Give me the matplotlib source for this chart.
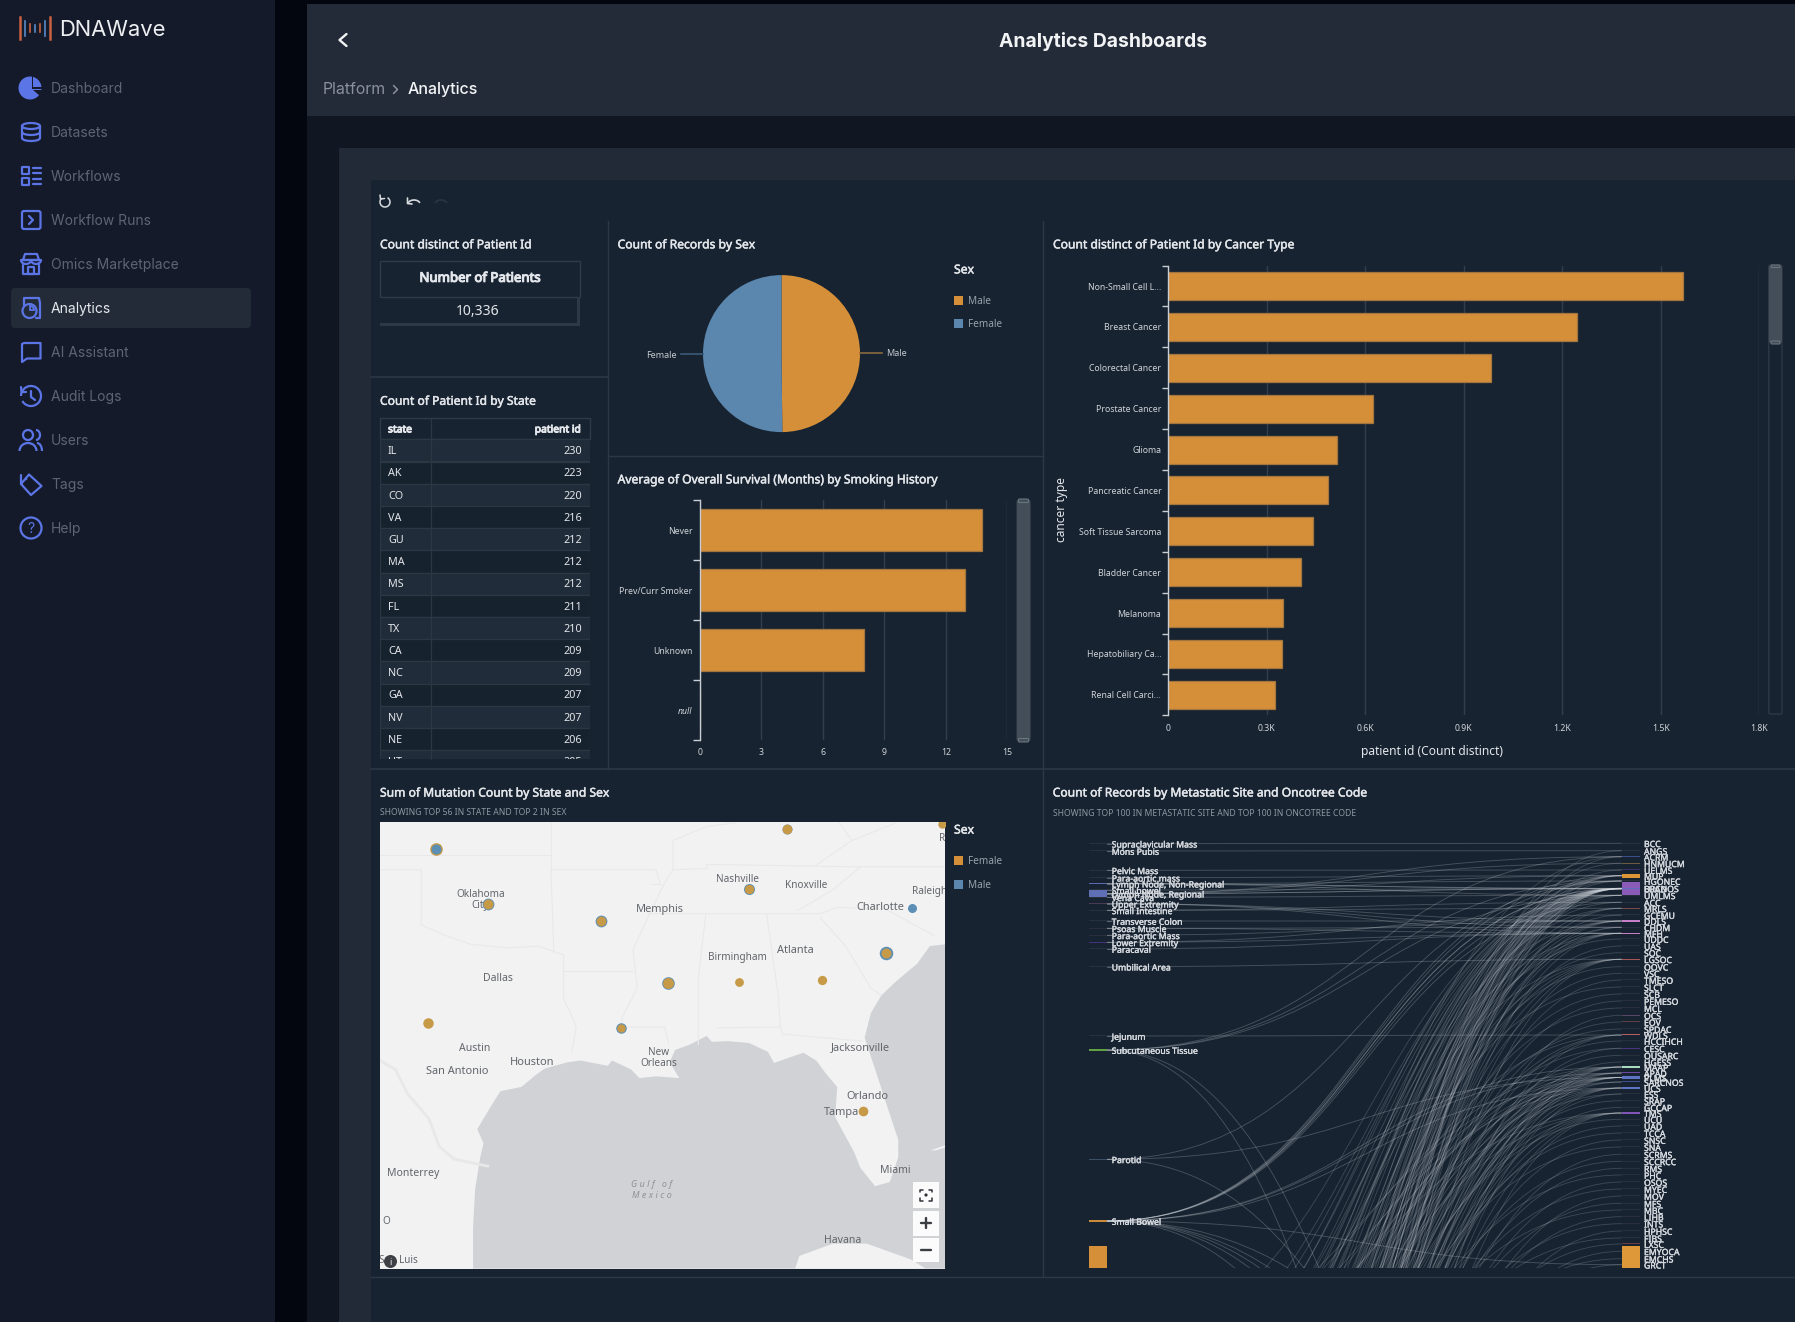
import matplotlib
matplotlib.use("Agg")
import matplotlib.pyplot as plt
import matplotlib.patheffects as pe
from matplotlib.patches import Rectangle, Circle, Wedge, Ellipse, FancyBboxPatch, Arc, PathPatch, Polygon
from matplotlib.path import Path

W, H = 1795, 1322
plt.rcParams['font.family'] = ['Noto Sans', 'DejaVu Sans']

# ---- data ----
nav_items = ["Dashboard", "Datasets", "Workflows", "Workflow Runs", "Omics Marketplace", "Analytics",
             "AI Assistant", "Audit Logs", "Users", "Tags", "Help"]

states = ["IL", "AK", "CO", "VA", "GU", "MA", "MS", "FL", "TX", "CA", "NC", "GA", "NV", "NE", "UT"]
state_counts = [230, 223, 220, 216, 212, 212, 212, 211, 210, 209, 209, 207, 207, 206, 205]

sex_labels = ["Male", "Female"]
sex_counts = [5150, 5186]

smoking = ["Never", "Prev/Curr Smoker", "Unknown", "null"]
survival = [13.78, 12.93, 7.99, 0]
survival_ticks = [0, 3, 6, 9, 12, 15]

cancer_types = ["Non-Small Cell L...", "Breast Cancer", "Colorectal Cancer", "Prostate Cancer", "Glioma",
                "Pancreatic Cancer", "Soft Tissue Sarcoma", "Bladder Cancer", "Melanoma",
                "Hepatobiliary Ca...", "Renal Cell Carci..."]
cancer_counts = [1567, 1246, 982, 624, 515, 488, 440, 405, 350, 346, 324]
cancer_ticks = [0, 300, 600, 900, 1200, 1500, 1800]
cancer_tick_labels = ["0", "0.3K", "0.6K", "0.9K", "1.2K", "1.5K", "1.8K"]

# map bubbles, lon/lat read from the basemap
bubble_lon = [-99.42, -97.22, -92.52, -86.32, -84.74, -78.26, -79.48, -80.57, -89.72, -86.75, -83.26, -91.68, -99.72, -81.54]
bubble_lat = [37.25, 35.32, 34.74, 35.85, 37.95, 38.15, 35.20, 33.61, 32.56, 32.59, 32.66, 30.97, 31.16, 28.08]
bubble_female = [159, 100, 94, 86, 94, 70, 0, 100, 121, 77, 86, 70, 110, 94]
bubble_male = [100, 139, 139, 121, 100, 0, 81, 182, 159, 0, 0, 110, 0, 0]

# sankey columns
left_labels = ["Supraclavicular Mass", "Mons Pubis", "Pelvic Mass", "Para-aortic mass", "Lymph Node, Non-Regional",
               "Small bowel", "Lymph Node, Regional", "Vena Cava", "Upper Extremity", "Small Intestine",
               "Transverse Colon", "Psoas Muscle", "Para-aortic Mass", "Lower Extremity", "Paracaval",
               "Umbilical Area", "Jejunum", "Subcutaneous Tissue", "Parotid", "Small Bowel"]
left_counts = [1, 1, 1, 1, 4, 1, 21, 1, 2, 1, 1, 1, 1, 2, 1, 1, 1, 4, 2, 4]
right_labels = ["BCC", "ANGS", "ACRM", "HNMUCM", "UELMS", "MUP", "HGONEC", "LUAD", "BRCNOS", "UMLMS", "ACC", "MRLS",
                "GCEMU", "DDLS", "CHDM", "MFH", "UDDC", "UAS", "SOC", "LGSOC", "OOVC", "VSC", "TMESO", "SLCT", "SCB",
                "PEMESO", "MCL", "OCS", "EOV", "SPDAC", "WDLS", "HCCIHCH", "CESC", "OUSARC", "HGESS", "MAAP", "APAD",
                "PLMS", "SARCNOS", "UCS", "ESS", "SRAP", "GCCAP", "TMS", "UCU", "UAD", "TCCA", "SNSC", "SNA", "SCRMS",
                "SCCRCC", "RMS", "PHC", "OSOS", "MYEC", "MOV", "MFS", "MBC", "LIHB", "INTS", "HPHSC", "FIBS", "LXSC",
                "EMYOCA", "EMCHS", "GRCT"]
right_counts = [1, 1, 2, 2, 1, 11, 1, 40, 2, 1, 1, 2, 1, 3, 1, 3, 1, 1, 1, 2, 1, 1, 1, 1, 1,
                1, 1, 1, 1, 1, 2, 1, 1, 1, 1, 4, 2, 10, 1, 3, 1, 1, 1, 3, 1, 1, 1, 1, 1, 1,
                1, 1, 1, 1, 1, 1, 1, 1, 1, 1, 1, 1, 2, 64, 1, 1]

link_from = ["Supraclavicular Mass", "Mons Pubis", "Pelvic Mass", "Para-aortic mass",
             "Lymph Node, Non-Regional", "Lymph Node, Non-Regional", "Lymph Node, Non-Regional", "Lymph Node, Non-Regional",
             "Lymph Node, Regional", "Lymph Node, Regional", "Lymph Node, Regional", "Lymph Node, Regional", "Lymph Node, Regional",
             "Small bowel", "Vena Cava", "Upper Extremity", "Upper Extremity", "Upper Extremity",
             "Small Intestine", "Small Intestine", "Transverse Colon", "Psoas Muscle", "Psoas Muscle", "Para-aortic Mass",
             "Lower Extremity", "Lower Extremity", "Paracaval", "Umbilical Area", "Jejunum",
             "Subcutaneous Tissue", "Subcutaneous Tissue", "Subcutaneous Tissue",
             "Parotid", "Parotid",
             "Small Bowel", "Small Bowel", "Small Bowel", "Small Bowel", "Small Bowel", "Small Bowel", "Small Bowel", "Small Bowel",
             "Small Bowel", "Small Bowel"]
link_to = ["BCC", "ANGS", "UELMS", "MUP",
           "LUAD", "BRCNOS", "HGONEC", "UMLMS",
           "LUAD", "LUAD", "MUP", "HNMUCM", "ACRM",
           "LUAD", "UMLMS", "DDLS", "MFH", "CHDM",
           "MRLS", "ACC", "DDLS", "MFH", "CHDM", "DDLS",
           "MFH", "GCEMU", "MFH", "LGSOC", "WDLS",
           "ACRM", "HGONEC", "UMLMS",
           "HGONEC", "PLMS",
           "LUAD", "BRCNOS", "UMLMS", "HGONEC", "ACC", "MAAP", "APAD", "UCS",
           "MUP", "GRCT"]

# links that run down to rows below the visible part of the diagram
offscreen_left = [[],
    [1890], [2040, 1510], [1720], [1830], [1420, 1555, 1610, 1745, 1880, 1965], [1490, 1780],
    [1345, 1380, 1415, 1440, 1465, 1500, 1530, 1560, 1590, 1625, 1650, 1690, 1715, 1750, 1790, 1820, 1860, 1905, 1945, 2010, 2080],
    [1395, 1525, 1640, 1770, 1930, 2120], [1455, 1670, 1850], [1600], [1505, 1730, 1955], [1840],
    [1430, 1575, 1660, 1805, 1990], [1700, 1920], [1470, 1620, 1760, 1870, 2050], [1540], [1880], [1680],
    [1450, 1585, 1710, 1835, 1975, 2130], [1600], [1790], [1930], [1520], [1740], [1850], [1640], [1970], [1760], [1580],
    [1480, 1695, 1815, 2000], [1650], [1545, 1880], [1725], [1825],
    [1375, 1495, 1615, 1735, 1860, 1985, 2110], [1410, 1565, 1720, 1905],
    [1360, 1445, 1520, 1605, 1680, 1775, 1845, 1950, 2070], [1435, 1630, 1810],
    [1390, 1535, 1665, 1795, 1940, 2090], [1575, 1895], [1690], [1860],
    [1405, 1515, 1640, 1755, 1880, 2020, 2160], [1610], [1780], [1700], [1890], [1640], [2010],
    [1760], [1870], [1660], [1950], [1730], [2060], [1820], [1625], [1900], [1745], [2100], [1675], [1840],
    [1985], [1770], [1920]]
# visible sites whose links leave through the bottom on the right-hand side
offscreen_from = ["Small Bowel", "Small Bowel", "Small Bowel", "Small Bowel", "Small Bowel",
                  "Subcutaneous Tissue", "Subcutaneous Tissue", "Parotid"]
offscreen_right = [1673, 1572, 1522, 1482, 1425, 1905, 1710, 1548]

# ---- colours ----
SIDEBAR = "#141a29"
GAP = "#03060f"
HEADER = "#232b38"
BODY = "#101722"
PANEL = "#212a36"
INNER = "#172331"
DIVIDER = "#2c3845"
BLUE = "#5b75e6"
ORANGE = "#d68f39"
STEEL = "#5b86ad"
TEXT = "#e3e6ea"
MUTED = "#99a3ae"

fig = plt.figure(figsize=(W / 100, H / 100), dpi=100, facecolor=BODY)


def px_axes(x0, y0, x1, y1, z=5):
    ax = fig.add_axes([x0 / W, 1 - y1 / H, (x1 - x0) / W, (y1 - y0) / H], zorder=z)
    ax.patch.set_alpha(0)
    return ax


def fs(px):
    return px * 0.72


def heavy(t, amount=0.35):
    # the dashboard font is heavier than what is installed here
    t.set_path_effects([pe.withStroke(linewidth=amount, foreground=t.get_color())])
    return t


bg = px_axes(0, 0, W, H, z=0)
bg.set_xlim(0, W)
bg.set_ylim(H, 0)
bg.axis("off")
ov = px_axes(0, 0, W, H, z=20)
ov.set_xlim(0, W)
ov.set_ylim(H, 0)
ov.axis("off")


def box(ax, x0, y0, x1, y1, color, **kw):
    ax.add_patch(Rectangle((x0, y0), x1 - x0, y1 - y0, facecolor=color, edgecolor="none", **kw))


def rbox(ax, x0, y0, x1, y1, r, fc="none", ec="none", lw=1.6, z=3):
    ax.add_patch(FancyBboxPatch((x0 + r, y0 + r), x1 - x0 - 2 * r, y1 - y0 - 2 * r,
                                boxstyle=f"round,pad={r}", fc=fc, ec=ec, lw=lw, zorder=z))


def poly(ax, xs, ys, color=BLUE, lw=1.6, z=3):
    ax.plot(xs, ys, color=color, lw=lw, zorder=z, solid_capstyle="round", solid_joinstyle="round")


# ---- page chrome ----
box(bg, 0, 0, 275, H, SIDEBAR)
box(bg, 275, 0, 307, H, GAP)
box(bg, 307, 0, W, 4, GAP)
box(bg, 307, 4, W, 116, HEADER)
box(bg, 339, 148, W, H, PANEL)
box(bg, 371, 180, W, H, INNER)

logo_x = [20, 25, 30, 34.5, 39.5, 44.5, 50]
logo_h = [11, 7.5, 4, 3.5, 4, 7.5, 11]
logo_c = ["#c9603f", "#5a8ac8", "#c9603f", "#5a8ac8", "#c9603f", "#5a8ac8", "#c9603f"]
for x, h, c in zip(logo_x, logo_h, logo_c):
    bg.plot([x, x], [28 - h, 28 + h], color=c, lw=1.8 if h > 10 else 1.2)
bg.text(59, 29, "DNAWave", family="Inter", fontsize=fs(22), color="#eceef1", va="center")

nav_y = [88, 132, 176, 220, 264, 308, 352, 396, 440, 484, 528]
rbox(bg, 11, 288, 251, 328, 4, fc=HEADER, z=1)
for name, y in zip(nav_items, nav_y):
    col = "#e5e7eb" if name == "Analytics" else "#5d6574"
    bg.text(51, y, name, family="Inter", fontsize=fs(13.9), color=col, va="center", zorder=4)

# sidebar icons, one by one
bg.add_patch(Wedge((30, 88), 11.5, 0, 360, fc=BLUE, ec="none", zorder=3))
bg.add_patch(Wedge((33, 90), 11, 0, 40, fc=SIDEBAR, ec="none", zorder=3))
box(bg, 31.5, 76, 33, 88, SIDEBAR, zorder=3)
box(bg, 31.5, 87, 43, 89, SIDEBAR, zorder=3)
bg.add_patch(Ellipse((31, 126), 18, 6, fc="none", ec=BLUE, lw=1.6, zorder=3))
poly(bg, [22, 22], [126, 138])
poly(bg, [40, 40], [126, 138])
bg.add_patch(Arc((31, 138), 18, 6, theta1=0, theta2=180, ec=BLUE, lw=1.6, zorder=3))
bg.add_patch(Arc((31, 132), 18, 6, theta1=0, theta2=180, ec=BLUE, lw=1.6, zorder=3))
for y0 in [167, 178]:
    rbox(bg, 22, y0, 29, y0 + 7, 0.5, ec=BLUE)
    poly(bg, [33, 41], [y0 + 1, y0 + 1])
    poly(bg, [33, 41], [y0 + 6, y0 + 6])
rbox(bg, 22, 211, 40.5, 229, 2, ec=BLUE)
poly(bg, [29, 33, 29], [216, 220, 224])
poly(bg, [23, 25, 37, 39, 23], [260, 254, 254, 260, 260])
poly(bg, [21, 41], [260, 260])
bg.add_patch(Arc((26, 260), 10, 8, theta1=0, theta2=180, ec=BLUE, lw=1.6, zorder=3))
bg.add_patch(Arc((36, 260), 10, 8, theta1=0, theta2=180, ec=BLUE, lw=1.6, zorder=3))
poly(bg, [23, 23, 39, 39], [265, 274, 274, 265])
rbox(bg, 28, 267, 34, 274, 0.5, ec=BLUE)
poly(bg, [24, 24, 31, 39, 40, 40, 36], [305, 298, 298, 298, 303, 318, 318])
bg.add_patch(Circle((29.5, 311), 7, fc=HEADER, ec=BLUE, lw=1.6, zorder=3))
bg.add_patch(Wedge((30, 310), 4, -90, 0, fc="none", ec=BLUE, lw=1.3, zorder=4))
poly(bg, [22, 22, 24, 40.5, 40.5, 27, 22], [361, 344, 343, 343, 358.5, 358.5, 362])
bg.add_patch(Arc((31, 396), 20, 20, theta1=-180, theta2=150, ec=BLUE, lw=1.6, zorder=3))
poly(bg, [21, 21.5, 26], [387, 392, 392])
poly(bg, [31, 31, 35], [391, 397, 400])
bg.add_patch(Circle((28, 435), 5, fc="none", ec=BLUE, lw=1.6, zorder=3))
bg.add_patch(Arc((28, 451), 17, 16, theta1=180, theta2=360, ec=BLUE, lw=1.6, zorder=3))
bg.add_patch(Arc((36, 435), 8, 10, theta1=-90, theta2=90, ec=BLUE, lw=1.6, zorder=3))
bg.add_patch(Arc((37, 451), 10, 16, theta1=270, theta2=360, ec=BLUE, lw=1.6, zorder=3))
poly(bg, [21, 21, 29, 41.5, 31, 21], [475, 484, 474.5, 486, 495, 484])
bg.add_patch(Circle((26, 479), 1.3, fc=BLUE, ec="none", zorder=3))
bg.add_patch(Circle((31, 528), 10.5, fc="none", ec=BLUE, lw=1.6, zorder=3))
bg.text(31, 528, "?", fontsize=fs(14), color=BLUE, ha="center", va="center", family="Inter", zorder=4)

poly(bg, [346.5, 339.5, 346.5], [34, 40, 46], color="#f1f2f4", lw=1.7)
bg.text(1103, 40, "Analytics Dashboards", family="Inter", fontsize=fs(19.3), weight="bold", color="#f2f3f5",
        ha="center", va="center")
bg.text(323, 88, "Platform", family="Inter", fontsize=fs(15.8), color="#8a919c", va="center")
poly(bg, [393.5, 397.5, 393.5], [85.5, 89.5, 93.5], color="#8a919c", lw=1.1)
bg.text(408, 88, "Analytics", family="Inter", fontsize=fs(16), color="#f2f3f5", weight="medium", va="center")

# toolbar
bg.add_patch(Arc((385, 202), 10, 10, theta1=-60, theta2=230, ec="#d7dbdf", lw=1.1))
poly(bg, [380, 380.5, 384.5], [195, 199, 198.5], color="#d7dbdf", lw=1.1)
bg.add_patch(Arc((414, 204), 12, 8, theta1=190, theta2=350, ec="#d7dbdf", lw=1.2))
poly(bg, [407.5, 407.5, 412], [198, 203.5, 204], color="#d7dbdf", lw=1.2)
bg.add_patch(Arc((441, 204), 12, 8, theta1=190, theta2=350, ec="#2b3642", lw=1.2))

# tile dividers
for x, y0, y1 in [(608, 221, 769), (1043, 221, 1277)]:
    bg.plot([x, x], [y0, y1], color=DIVIDER, lw=1)
bg.plot([371, 608], [376.5, 376.5], color=DIVIDER, lw=1.2)
bg.plot([608, 1043], [455.5, 455.5], color=DIVIDER, lw=1)
bg.plot([371, W], [769, 769], color=DIVIDER, lw=1.2)
bg.plot([371, W], [1277, 1277], color=DIVIDER, lw=1)


def title(x, y, s):
    heavy(ov.text(x, y, s, fontsize=fs(12.1), color=TEXT, va="center"))


def subtitle(x, y, s):
    ov.text(x, y, s, fontsize=fs(8.6), color="#8d97a2", va="center")


title(380, 243.6, "Count distinct of Patient Id")
title(380, 400, "Count of Patient Id by State")
title(617.6, 243.6, "Count of Records by Sex")
title(617.6, 478.6, "Average of Overall Survival (Months) by Smoking History")
title(1053, 243.6, "Count distinct of Patient Id by Cancer Type")
title(380, 791.8, "Sum of Mutation Count by State and Sex")
subtitle(380, 811.5, "SHOWING TOP 56 IN STATE AND TOP 2 IN SEX")
title(1052.7, 791.7, "Count of Records by Metastatic Site and Oncotree Code")
subtitle(1052.7, 811.7, "SHOWING TOP 100 IN METASTATIC SITE AND TOP 100 IN ONCOTREE CODE")

# KPI table
bg.add_patch(Rectangle((380, 261), 200, 36, fc="none", ec="#2f3b48", lw=1))
box(bg, 380, 322.5, 580, 326, "#2e3946")
box(bg, 576.5, 297, 580, 326, "#2e3946")
heavy(ov.text(480, 277, "Number of Patients", fontsize=fs(13.2), color=TEXT, ha="center", va="center"), 0.8)
ov.text(478, 310, "10,336", fontsize=fs(14), color=TEXT, ha="center", va="center")

# state table
table_clip = Rectangle((380, 418), 210, 341, transform=ov.transData, fc="none", ec="none")
row_top = 439.3
row_h = 22.2
ov.add_patch(Rectangle((380.3, 418), 209.7, 21.3, fc=INNER, ec="#2e3a47", lw=1))
heavy(ov.text(388, 428.6, "state", fontsize=fs(10.3), color=TEXT, va="center"), 0.7)
heavy(ov.text(581, 428.6, "patient id", fontsize=fs(10.3), color=TEXT, va="center", ha="right"), 0.7)
for i, (st, n) in enumerate(zip(states, state_counts)):
    y = row_top + i * row_h
    r = Rectangle((380.3, y), 209.7, row_h, fc="#202c39" if i % 2 == 0 else "#17222f", ec="#2b3743", lw=0.9)
    ov.add_patch(r)
    r.set_clip_path(table_clip)
    t1 = ov.text(388, y + row_h / 2, st, fontsize=fs(10.8), color=TEXT, va="center")
    t2 = ov.text(582, y + row_h / 2, str(n), fontsize=fs(10.8), color=TEXT, va="center", ha="right")
    for t in (t1, t2):
        t.set_clip_path(table_clip)
        t.set_clip_on(True)
ov.plot([431, 431], [418, 759], color="#2b3743", lw=0.9)

# pie
r_pie = 78.5 * 1.02
pie_ax = px_axes(781.5 - r_pie, 353.6 - r_pie, 781.5 + r_pie, 353.6 + r_pie)
pie_ax.pie(sex_counts, colors=[ORANGE, STEEL], startangle=90, counterclock=False, radius=1)
pie_ax.set_xlim(-1.02, 1.02)
pie_ax.set_ylim(-1.02, 1.02)
ov.plot([860, 882], [352.5, 352.5], color="#8a6a3e", lw=1.2)
ov.plot([681, 703], [354.3, 354.3], color="#3c5a78", lw=1.2)
ov.text(886, 352.5, "Male", fontsize=fs(9), color="#c3c9cf", va="center")
ov.text(676.6, 354.3, "Female", fontsize=fs(9), color="#c3c9cf", va="center", ha="right")


def legend(x, y_title, ys, names, cols):
    heavy(ov.text(x, y_title, "Sex", fontsize=fs(12.2), color=TEXT, va="center"))
    for y, name, c in zip(ys, names, cols):
        box(ov, x, y - 4.5, x + 9, y + 4.5, c)
        ov.text(x + 13.6, y, name, fontsize=fs(10), color=MUTED, va="center")


legend(954, 268.6, [300, 323], sex_labels, [ORANGE, STEEL])
legend(954, 828.8, [860.5, 884], ["Female", "Male"], [ORANGE, STEEL])


def style_bars(ax, cats, ticks, tick_labels, label_px, tick_len):
    n = len(cats)
    ax.set_ylim(n - 0.5, -0.5)
    ax.set_xlim(ticks[0], ticks[-1])
    ax.set_xticks(ticks)
    ax.set_xticklabels(tick_labels)
    ax.set_yticks(range(n))
    ax.set_yticklabels(cats)
    ax.set_yticks([i - 0.5 for i in range(n + 1)], minor=True)
    ax.tick_params(axis="y", which="major", length=0, pad=5, labelsize=fs(label_px), labelcolor="#d0d4d9")
    ax.tick_params(axis="y", which="minor", length=tick_len, width=1, color="#c9ced4")
    ax.tick_params(axis="x", length=0, pad=6, labelsize=fs(label_px), labelcolor="#d0d4d9")
    ax.grid(axis="x", color="#323e4b", lw=1)
    ax.set_axisbelow(True)
    for s in ["top", "right", "bottom"]:
        ax.spines[s].set_visible(False)
    ax.spines["left"].set_color("#c9ced4")
    ax.spines["left"].set_linewidth(1)


# survival bars
surv_ax = px_axes(699.6, 500.4, 1007.5, 740)
surv_ax.barh(range(len(smoking)), survival, height=0.7, color=ORANGE, edgecolor="#a3763f", lw=0.9)
style_bars(surv_ax, smoking, survival_ticks, [str(t) for t in survival_ticks], 8.7, 5)
surv_ax.get_yticklabels()[3].set_style("italic")
rbox(ov, 1016.6, 500, 1030.5, 741, 1.5, fc="#434e59")
rbox(ov, 1018.5, 499, 1028.5, 502.5, 1, fc="#434e59", ec="#6a7580", lw=0.8)
rbox(ov, 1018.5, 738.5, 1028.5, 742, 1, fc="#434e59", ec="#6a7580", lw=0.8)

# cancer type bars
cancer_ax = px_axes(1168.3, 265.6, 1759.2, 715.3)
cancer_ax.barh(range(len(cancer_types)), cancer_counts, height=0.687, color=ORANGE, edgecolor="#a3763f", lw=0.9)
style_bars(cancer_ax, cancer_types, cancer_ticks, cancer_tick_labels, 8.7, 4)
ov.text(1432.4, 750, "patient id (Count distinct)", fontsize=fs(12), color=TEXT, ha="center", va="center")
ov.text(1062, 508.4, "cancer type", fontsize=fs(12), color=TEXT, ha="center", va="center", rotation=90)
rbox(ov, 1768.8, 265, 1782, 714, 1.5, ec="#303b47", lw=0.9)
rbox(ov, 1768.8, 266, 1782, 342.8, 1.5, fc="#434e59")
rbox(ov, 1771, 265, 1780, 267.5, 1, fc="#434e59", ec="#6a7580", lw=0.8)
rbox(ov, 1771, 341, 1780, 344, 1, fc="#434e59", ec="#6a7580", lw=0.8)


# ---- map ----
def geo(points):
    # basemap was traced on a 2.376 x 2.84 enlargement, turn it into lon/lat
    return [(-96.8 + (x - 305) / 56.8, 32.78 - (y - 587) / 81) for x, y in points]


map_ax = px_axes(380, 821.8, 945, 1268.6)
map_ax.patch.set_alpha(1)
map_ax.set_facecolor("#f2f2f3")
map_ax.set_xlim(-96.8 + (24 - 305) / 56.8, -96.8 + (1366 - 305) / 56.8)
map_ax.set_ylim(32.78 - (1416 - 587) / 81, 32.78 - (147 - 587) / 81)
map_ax.set_xticks([])
map_ax.set_yticks([])
for s in map_ax.spines.values():
    s.set_visible(False)

water = [(245, 1416), (245, 1300), (250, 1190), (262, 1100), (270, 1060), (255, 1020), (285, 960), (310, 912), (360, 900),
         (395, 865), (415, 848), (470, 830), (500, 825), (530, 832), (565, 840), (575, 825), (620, 850), (640, 875),
         (680, 870), (735, 875), (712, 830), (725, 795), (760, 780), (800, 755), (812, 772), (850, 770), (900, 775),
         (945, 800), (960, 832), (1000, 815), (1030, 803), (1060, 825), (1085, 865), (1110, 900), (1105, 985),
         (1125, 1030), (1150, 1085), (1165, 1130), (1200, 1182), (1235, 1170), (1255, 1100),
         (1255, 1050), (1230, 960), (1200, 850), (1175, 760), (1190, 690), (1215, 640), (1250, 600), (1300, 550),
         (1330, 500), (1366, 495), (1366, 1416)]
cuba = [(1010, 1416), (1020, 1380), (1100, 1345), (1180, 1345), (1285, 1390), (1320, 1416)]
keys = [(1332, 1080), (1366, 1066), (1366, 1072), (1345, 1080)]
map_ax.add_patch(Polygon(geo(water), fc="#d0d2d5", ec="none", zorder=1))
map_ax.add_patch(Polygon(geo(cuba), fc="#f2f2f3", ec="none", zorder=1))
map_ax.add_patch(Polygon(geo(keys), fc="#f2f2f3", ec="none", zorder=1))

borders = [
    [(24, 240), (430, 240)],
    [(430, 147), (430, 283)],
    [(24, 283), (122, 283), (122, 440), (180, 470), (240, 495), (330, 505), (400, 500), (460, 525), (460, 650),
     (480, 700), (490, 730), (480, 800)],
    [(430, 283), (437, 520)],
    [(430, 283), (680, 283), (690, 325), (670, 325)],
    [(720, 283), (800, 280), (800, 268), (1165, 275), (1366, 275)],
    [(720, 283), (700, 320), (660, 420), (625, 510), (635, 620), (600, 700), (595, 730), (700, 730), (710, 780)],
    [(460, 570), (625, 570)],
    [(660, 408), (1070, 408), (1110, 390), (1225, 395), (1340, 470)],
    [(798, 408), (780, 590), (780, 780)],
    [(942, 408), (970, 640), (975, 730)],
    [(825, 732), (975, 730), (980, 750), (1170, 770)],
    [(1070, 420), (1130, 500), (1190, 620), (1215, 640)],
    [(1165, 275), (1100, 340), (1015, 400)],
    [(720, 283), (720, 200), (800, 160), (870, 150)],
    [(1115, 150), (1145, 200), (1060, 270)],
    [(1145, 200), (1250, 150)],
]
for line in borders:
    pts = geo(line)
    map_ax.plot([p[0] for p in pts], [p[1] for p in pts], color="#e9e9eb", lw=0.8, zorder=2)
rio = geo([(24, 825), (60, 850), (90, 920), (140, 990), (165, 1070), (200, 1105), (280, 1125)])
map_ax.plot([p[0] for p in rio], [p[1] for p in rio], color="#e8e8e9", lw=2, zorder=2)

city_names = ["Oklahoma\nCity", "Memphis", "Nashville", "Knoxville", "Raleigh", "Charlotte", "Birmingham", "Atlanta",
              "Dallas", "Austin", "Houston", "San Antonio", "New\nOrleans", "Jacksonville", "Orlando", "Tampa",
              "Monterrey", "Miami", "Havana", "San Luis", "R", "O"]
city_at = geo([(263, 370), (688, 397), (874, 311), (1037, 328), (1330, 344), (1212, 391), (873, 531), (1010, 512),
               (305, 591), (250, 792), (385, 832), (207, 857), (686, 817), (1165, 787), (1181, 927), (1120, 972),
               (104, 1146), (1249, 1138), (1124, 1336), (67, 1392), (1360, 194), (38, 1283)])
city_px = [10, 11, 10, 10, 10, 11, 10, 11, 10.5, 10.5, 11, 11, 10, 11, 11, 11, 10.5, 10.5, 10.5, 10, 10, 10]
for name, (lo, la), p in zip(city_names, city_at, city_px):
    map_ax.text(lo, la, name, fontsize=fs(p), color="#62656a", ha="center", va="center", zorder=4,
                clip_on=True, linespacing=1.0)
gulf = geo([(670, 1193)])[0]
map_ax.text(gulf[0], gulf[1], "G u l f   o f\nM e x i c o", fontsize=fs(9), style="italic", color="#8e9297",
            ha="center", va="center", zorder=4, linespacing=1.4)

# bubbles: the bigger sex goes behind the smaller one
for lo, la, f, m in zip(bubble_lon, bubble_lat, bubble_female, bubble_male):
    order = [("#c79a48", f), ("#5c8fb5", m)]
    order.sort(key=lambda o: -o[1])
    for k, (c, v) in enumerate(order):
        if v > 0:
            map_ax.scatter([lo], [la], s=v * 0.72 ** 2, color=c, linewidths=0, zorder=5 + k)

# map buttons
for y0, y1 in [(1182, 1208.4), (1210.8, 1235.5), (1238.3, 1262.3)]:
    box(ov, 913, y0, 939, y1, "#fbfbfb")
poly(ov, [921, 931], [1223, 1223], color="#3a3d42", lw=1.7)
poly(ov, [926, 926], [1218, 1228], color="#3a3d42", lw=1.7)
poly(ov, [921, 931], [1250.3, 1250.3], color="#3a3d42", lw=1.7)
ov.add_patch(Circle((926, 1195), 1.6, fc="#2e3136", ec="none"))
for dx in [-1, 1]:
    for dy in [-1, 1]:
        poly(ov, [926 + dx * 6, 926 + dx * 6, 926 + dx * 3], [1195 + dy * 3, 1195 + dy * 5.5, 1195 + dy * 5.5],
             color="#2e3136", lw=1.1)
ov.add_patch(Circle((390.5, 1261.5), 6.5, fc="#3d4045", ec="none"))
ov.text(390.5, 1261.5, "i", fontsize=fs(9), color="#f2f2f3", ha="center", va="center", weight="bold")

# ---- sankey ----
left_y = [843.7, 851, 870.3, 877.7, 883.7, 890, 893.7, 897.3, 903.7, 910.3, 921, 928.3, 935.3, 942.3, 949, 966.7,
          1036, 1050, 1159.3, 1221]
right_y = [843.3, 850.7, 856.7, 863.3, 870, 875.7, 881, 888.7, 888.3, 895.3, 902.3, 908.3, 915, 921, 927.3, 933.3,
           939, 946, 952.7, 959.3, 966.7, 973.3, 980, 987, 994, 1001, 1008, 1015.3, 1022, 1029, 1035, 1041, 1048.3,
           1055.3, 1062, 1067, 1073, 1077.5, 1082, 1088, 1094, 1100.7, 1107.3, 1113, 1119.3, 1126, 1133, 1140, 1147,
           1154.3, 1161.3, 1168.3, 1175, 1182, 1189, 1196, 1203.3, 1210, 1216.7, 1223.7, 1231, 1238, 1244, 1251.3,
           1258.7, 1264.7]
left_colors = {"Lymph Node, Non-Regional": "#5a68b0", "Lymph Node, Regional": "#5f6fb5", "Subcutaneous Tissue": "#62a044",
               "Small Bowel": "#c98a3a", "Upper Extremity": "#4a3a55", "Lower Extremity": "#45307a", "Parotid": "#3a5068"}
right_colors = {"ACRM": "#3d4f8a", "HNMUCM": "#6b5a3e", "UELMS": "#3e2f66", "MUP": "#dc9636", "LUAD": "#8a5cb8",
                "BRCNOS": "#5f6fc0", "MRLS": "#7a4a4a", "DDLS": "#c77fc7", "MFH": "#c77fc7", "LGSOC": "#a85555",
                "WDLS": "#b86060", "CESC": "#4a3580", "MAAP": "#a8dcc0", "APAD": "#6a48a0", "PLMS": "#5f73c4",
                "UCS": "#5f73c4", "TMS": "#8055b5", "LXSC": "#6b3f3f", "EMYOCA": "#de9739", "OCS": "#5a4468",
                "EOV": "#5a3f44", "SARCNOS": "#3d4f8a"}
DIM_NODE = "#27303c"

sk = px_axes(1080, 838, 1700, 1268.3, z=6)
sk.set_xlim(1080, 1700)
sk.set_ylim(1268.3, 838)
sk.axis("off")

LX0, LX1, RX0, RX1 = 1089, 1107, 1621.7, 1640
MID = (LX1 + RX0) / 2
LSCALE = 0.35


def link(y0, y1, alpha=0.2):
    p = Path([(LX1, y0), (MID, y0), (MID, y1), (RX0, y1)], [Path.MOVETO, Path.CURVE4, Path.CURVE4, Path.CURVE4])
    sk.add_patch(PathPatch(p, fc="none", ec="#d5dae0", lw=0.65, alpha=alpha, zorder=2))


pos_left = dict(zip(left_labels, left_y))
pos_right = dict(zip(right_labels, right_y))
for a, b in zip(link_from, link_to):
    link(pos_left[a], pos_right[b], alpha=0.25)
for label, sources in zip(right_labels, offscreen_left):
    for y0 in sources:
        link(y0, pos_right[label])
for a, y1 in zip(offscreen_from, offscreen_right):
    link(pos_left[a], y1, alpha=0.25)

for label, y, n in zip(left_labels, left_y, left_counts):
    h = max(n * LSCALE, 1)
    box(sk, LX0, y - h / 2, LX1, y + h / 2, left_colors.get(label, DIM_NODE), zorder=3)
    sk.plot([LX1, 1111], [y, y], color="#d5dae0", lw=0.7, alpha=0.3, zorder=2)
    heavy(sk.text(1111.7, y, label, fontsize=fs(8.7), color="#d8dce1", va="center", zorder=5), 0.25)
box(sk, LX0, 1246, LX1, 1268.3, ORANGE, zorder=3)

for label, y, n in zip(right_labels, right_y, right_counts):
    h = max(n * LSCALE, 1)
    if label == "EMYOCA":
        continue
    box(sk, RX0, y - h / 2, RX1, y + h / 2, right_colors.get(label, DIM_NODE), zorder=3 if label != "BRCNOS" else 4)
for label, y in zip(right_labels, right_y):
    heavy(ov.text(1644, y, label, fontsize=fs(8.7), color="#d8dce1", va="center"), 0.25)
# the big block sits under its label, a bit lower than the label row
box(sk, RX0, 1246, RX1, 1268.3, right_colors["EMYOCA"], zorder=4)

# text boxes centre a little high compared to the dashboard, nudge the pixel-placed ones down
for ax in (bg, ov, sk):
    for t in ax.texts:
        x, y = t.get_position()
        t.set_y(y + 1.3)

fig.savefig("out.png", dpi=100, facecolor=fig.get_facecolor())
print("saved out.png")
